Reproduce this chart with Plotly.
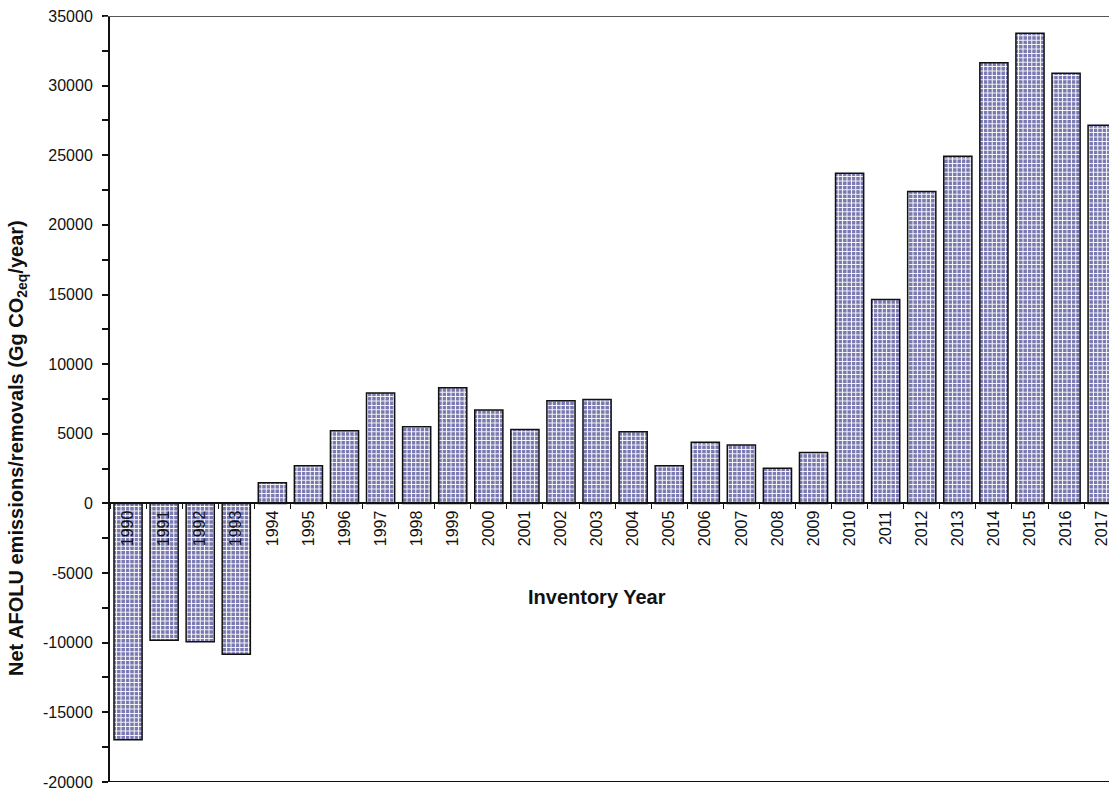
import plotly.graph_objects as go

# Net AFOLU emissions/removals by inventory year (Gg CO2eq/year)
years = [str(y) for y in range(1990, 2018)]
net_afolu = [
    -16980, -9830, -9930, -10830, 1490, 2700, 5220, 7920, 5500, 8300,
    6700, 5310, 7370, 7460, 5150, 2700, 4400, 4190, 2530, 3660,
    23700, 14640, 22400, 24930, 31640, 33760, 30890, 27160,
]
y_ticks = [35000, 30000, 25000, 20000, 15000, 10000, 5000, 0,
           -5000, -10000, -15000, -20000]

Y_MIN, Y_MAX = -20000, 35000
FONT = "Liberation Sans, Arial, sans-serif"

fig = go.Figure()
fig.add_trace(go.Bar(
    x=years,
    y=net_afolu,
    width=0.78,
    marker=dict(
        color="#7878b0",
        line=dict(color="#111111", width=1.5),
        pattern=dict(shape="+", bgcolor="#7878b0", fgcolor="white",
                     size=4.4, solidity=0.4, fillmode="replace"),
    ),
    showlegend=False,
))

zero_pos = (0 - Y_MIN) / (Y_MAX - Y_MIN)

fig.update_layout(
    width=1109, height=789,
    margin=dict(l=110, r=0, t=16, b=7),
    paper_bgcolor="white", plot_bgcolor="white",
    font=dict(family=FONT, color="#111111"),
    bargap=0.22,
    xaxis=dict(
        type="category",
        range=[-0.5, 27.19],
        anchor="free", position=zero_pos,
        automargin=False,
        showline=True, linecolor="#111111", linewidth=1.5,
        ticks="outside", ticklen=5, tickcolor="#111111", tickwidth=1,
        tickson="boundaries",
        tickangle=-90,
        ticklabeloverflow="allow",
        tickfont=dict(size=16, family=FONT, color="#111111"),
        showgrid=False, zeroline=False,
    ),
    yaxis=dict(
        range=[Y_MIN - 5, Y_MAX],
        automargin=False,
        tickvals=y_ticks,
        ticktext=[str(v) for v in y_ticks],
        ticklabeloverflow="allow",
        showline=True, linecolor="#111111", linewidth=2,
        ticks="outside", ticklen=6, tickcolor="#111111", tickwidth=2,
        ticklabelstandoff=6,
        minor=dict(dtick=2500, tick0=0, ticks="outside", ticklen=6,
                   tickcolor="#111111", tickwidth=2, showgrid=False),
        tickfont=dict(size=16, family=FONT, color="#111111"),
        showgrid=False, zeroline=False,
    ),
    shapes=[
        dict(type="line", xref="paper", yref="y", x0=-0.006, x1=1,
             y0=Y_MAX, y1=Y_MAX, line=dict(color="#555555", width=2)),
        dict(type="line", xref="paper", yref="y", x0=0, x1=1,
             y0=Y_MIN, y1=Y_MIN, line=dict(color="#111111", width=2)),
    ],
    annotations=[
        dict(text="Inventory Year", xref="paper", yref="paper",
             x=(597 - 110) / 999, y=(782 - 597) / 766,
             xanchor="center", yanchor="middle", showarrow=False,
             font=dict(size=20, family=FONT, color="#111111", weight="bold")),
        dict(text="Net AFOLU emissions/removals (Gg CO<sub>2eq</sub>/year)",
             xref="paper", yref="paper",
             x=(18 - 110) / 999, y=(782 - 448) / 766,
             xanchor="center", yanchor="middle", textangle=-90,
             showarrow=False,
             font=dict(size=20, family=FONT, color="#111111", weight="bold")),
    ],
)

fig.write_html("out.html")
